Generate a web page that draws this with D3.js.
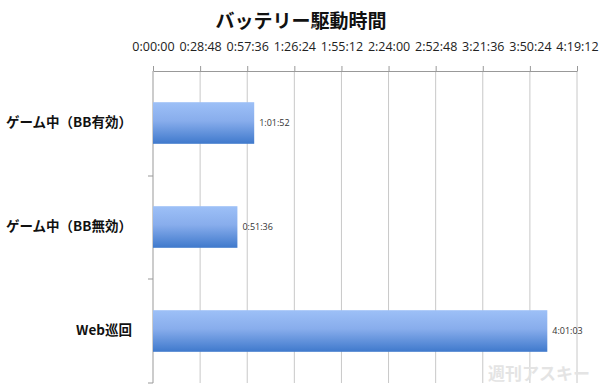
<!DOCTYPE html>
<html>
<head>
<meta charset="utf-8">
<script src="https://cdn.jsdelivr.net/npm/d3@7"></script>
<style>
  body { margin: 0; background: #fff; }
  text { font-family: "Noto Sans CJK JP", "Noto Sans", sans-serif; }
</style>
</head>
<body>
<div id="chart"></div>
<script>
var categories = ["ゲーム中（BB有効）", "ゲーム中（BB無効）", "Web巡回"];
var durations = ["1:01:52", "0:51:36", "4:01:03"];
var tickLabels = ["0:00:00", "0:28:48", "0:57:36", "1:26:24", "1:55:12", "2:24:00", "2:52:48", "3:21:36", "3:50:24", "4:19:12"];

var width = 600;
var height = 388;

function toSec(s) {
  var p = s.split(":").map(Number);
  return p[0] * 3600 + p[1] * 60 + p[2];
}
var tickSecs = tickLabels.map(toSec);

var data = categories.map(function (c, i) {
  return { name: c, label: durations[i], value: toSec(durations[i]) };
});

var svg = d3.select("#chart").append("svg")
  .attr("width", width)
  .attr("height", height);

var defs = svg.append("defs");
var grad = defs.append("linearGradient")
  .attr("id", "barGrad")
  .attr("x1", 0).attr("y1", 0).attr("x2", 0).attr("y2", 1);
grad.append("stop").attr("offset", "0%").attr("stop-color", "#9dc0f7");
grad.append("stop").attr("offset", "45%").attr("stop-color", "#88adec");
grad.append("stop").attr("offset", "100%").attr("stop-color", "#3f79cc");

/* Scales */
var xScale = d3.scaleLinear()
  .domain([0, d3.max(tickSecs)])
  .range([153, 577]);

var yScale = d3.scaleBand()
  .domain(categories)
  .range([71, 383])
  .paddingInner(0.6)
  .paddingOuter(0.3);

/* Title */
svg.append("text")
  .attr("x", 301)
  .attr("y", 28)
  .attr("text-anchor", "middle")
  .style("font-size", "19px")
  .style("font-weight", "bold")
  .style("fill", "#111")
  .text("バッテリー駆動時間");

/* Grid lines */
svg.append("g")
  .selectAll("line")
  .data(tickSecs.slice(1)).enter()
  .append("line")
  .attr("x1", d => xScale(d))
  .attr("x2", d => xScale(d))
  .attr("y1", 71)
  .attr("y2", 383)
  .style("stroke", "#c8c8c8")
  .style("stroke-width", 1);

/* Top axis */
var xAxis = d3.axisTop(xScale)
  .tickValues(tickSecs)
  .tickFormat(function (d, i) { return tickLabels[i]; })
  .tickSize(5)
  .tickPadding(15)
  .tickSizeOuter(0);

var gx = svg.append("g")
  .attr("transform", "translate(0,71)")
  .call(xAxis);
gx.select(".domain").style("stroke", "#999");
gx.selectAll(".tick line").style("stroke", "#999");
gx.selectAll(".tick text")
  .style("font-family", "'Open Sans', 'DejaVu Sans', sans-serif")
  .style("font-size", "12.5px")
  .style("fill", "#222");

/* Left axis */
var yAxis = d3.axisLeft(yScale).tickSize(0).tickPadding(21);
var gy = svg.append("g")
  .attr("transform", "translate(153,0)")
  .call(yAxis);
gy.select(".domain").remove();
gy.selectAll(".tick text")
  .style("font-size", "13.5px")
  .style("font-weight", "bold")
  .style("fill", "#111");

svg.append("line")
  .attr("x1", 153).attr("x2", 153)
  .attr("y1", 71).attr("y2", 383)
  .style("stroke", "#999");

var bounds = [71, 176, 279, 383];
svg.append("g")
  .selectAll("line")
  .data(bounds.slice(1)).enter()
  .append("line")
  .attr("x1", 148).attr("x2", 153)
  .attr("y1", d => d).attr("y2", d => d)
  .style("stroke", "#999");

/* Bars */
svg.append("g")
  .selectAll("rect")
  .data(data).enter()
  .append("rect")
  .attr("x", xScale(0))
  .attr("y", d => yScale(d.name))
  .attr("width", d => xScale(d.value) - xScale(0))
  .attr("height", yScale.bandwidth())
  .style("fill", "url(#barGrad)");

/* Value labels */
svg.append("g")
  .selectAll("text")
  .data(data).enter()
  .append("text")
  .attr("x", d => xScale(d.value) + 5)
  .attr("y", d => yScale(d.name) + yScale.bandwidth() / 2)
  .attr("dy", "0.35em")
  .style("font-family", "'Open Sans', 'DejaVu Sans', sans-serif")
  .style("font-size", "9px")
  .style("fill", "#333")
  .text(d => d.label);

/* Watermark */
svg.append("text")
  .attr("x", 590)
  .attr("y", 380)
  .attr("text-anchor", "end")
  .style("font-size", "17px")
  .style("font-weight", "bold")
  .style("fill", "#e4e4e4")
  .text("週刊アスキー");
</script>
</body>
</html>
